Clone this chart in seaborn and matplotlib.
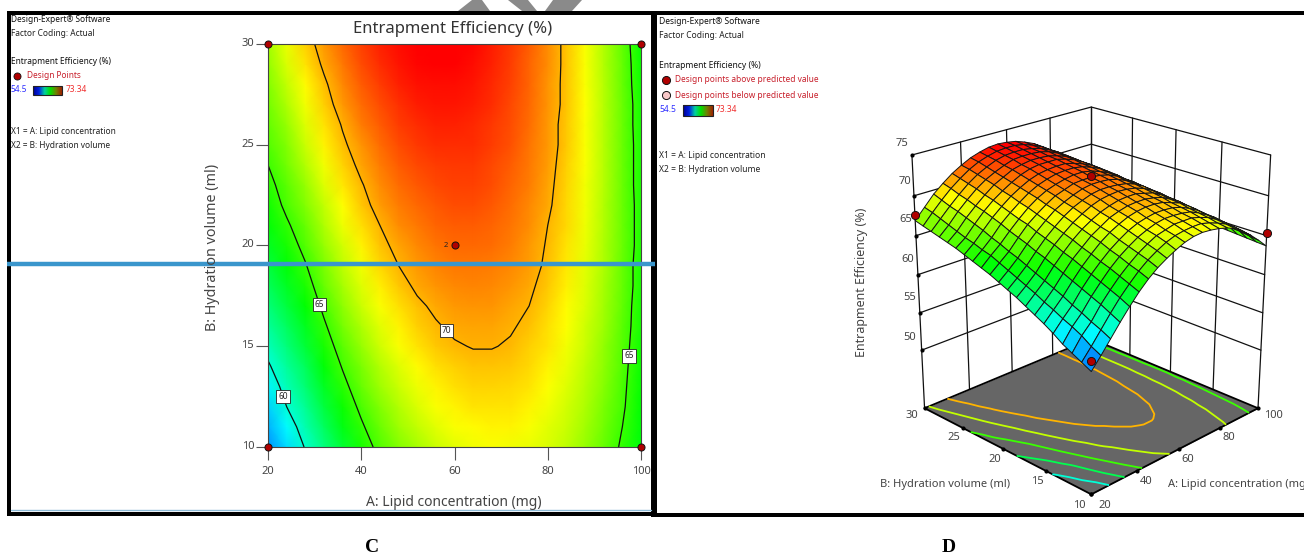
import numpy as np
import matplotlib
matplotlib.use("Agg")
import matplotlib.pyplot as plt
import seaborn as sns
import pandas as pd
from matplotlib.colors import LinearSegmentedColormap, Normalize
from matplotlib.patches import Rectangle, Polygon
from matplotlib.transforms import ScaledTranslation

# =============================================
# DATA
# =============================================
A_VALUES = [20, 24, 28, 32, 36, 40, 44, 48, 52, 56, 60, 64, 68, 72, 76, 80, 84, 88, 92, 96, 100]
B_VALUES = [10, 11, 12, 13, 14, 15, 16, 17, 18, 19, 20, 21, 22, 23, 24, 25, 26, 27, 28, 29, 30]

# one row per hydration volume (10 to 30), one column per lipid concentration (20 to 100)
EFFICIENCY = [
    [57.2, 58.6, 60.1, 61.6, 63.0, 64.3, 65.4, 66.3, 67.0, 67.6, 68.1, 68.4, 68.5, 68.4, 68.2, 67.9, 67.4, 66.7, 65.8, 64.8, 63.7],
    [57.8, 59.2, 60.7, 62.2, 63.6, 64.8, 65.9, 66.8, 67.5, 68.1, 68.5, 68.7, 68.8, 68.8, 68.5, 68.1, 67.6, 66.9, 66.0, 65.0, 63.8],
    [58.4, 60.0, 61.2, 62.8, 64.1, 65.3, 66.3, 67.2, 67.9, 68.5, 68.8, 69.1, 69.1, 69.1, 68.8, 68.4, 67.8, 67.1, 66.2, 65.2, 63.9],
    [59.0, 60.6, 61.8, 63.3, 64.6, 65.8, 66.8, 67.6, 68.3, 68.8, 69.2, 69.4, 69.4, 69.3, 69.1, 68.6, 68.0, 67.3, 66.4, 65.3, 64.0],
    [59.8, 61.1, 62.3, 63.8, 65.1, 66.2, 67.2, 68.0, 68.7, 69.2, 69.5, 69.7, 69.7, 69.6, 69.3, 68.8, 68.2, 67.4, 66.5, 65.4, 64.1],
    [60.5, 61.7, 62.9, 64.3, 65.6, 66.7, 67.7, 68.5, 69.1, 69.6, 69.9, 70.05, 70.05, 69.9, 69.5, 69.1, 68.4, 67.6, 66.6, 65.5, 64.2],
    [61.1, 62.2, 63.4, 64.8, 66.1, 67.1, 68.1, 68.8, 69.5, 69.9, 70.2, 70.3, 70.3, 70.1, 69.8, 69.2, 68.6, 67.7, 66.8, 65.6, 64.3],
    [61.7, 62.8, 63.9, 65.3, 66.5, 67.6, 68.5, 69.2, 69.8, 70.2, 70.5, 70.6, 70.6, 70.3, 70.0, 69.4, 68.7, 67.9, 66.9, 65.7, 64.3],
    [62.3, 63.3, 64.4, 65.8, 67.0, 68.0, 68.9, 69.6, 70.2, 70.6, 70.8, 70.9, 70.8, 70.6, 70.2, 69.6, 68.9, 68.0, 67.0, 65.8, 64.4],
    [62.8, 63.8, 64.9, 66.2, 67.4, 68.4, 69.3, 70.0, 70.5, 70.9, 71.1, 71.1, 71.0, 70.8, 70.4, 69.8, 69.0, 68.1, 67.1, 65.8, 64.4],
    [63.3, 64.3, 65.4, 66.7, 67.8, 68.8, 69.7, 70.3, 70.8, 71.2, 71.4, 71.4, 71.3, 71.0, 70.5, 69.9, 69.1, 68.2, 67.1, 65.9, 64.5],
    [63.8, 64.8, 65.8, 67.1, 68.3, 69.2, 70.0, 70.7, 71.1, 71.5, 71.6, 71.6, 71.5, 71.2, 70.7, 70.0, 69.3, 68.3, 67.2, 65.9, 64.5],
    [64.2, 65.3, 66.3, 67.5, 68.6, 69.6, 70.4, 71.0, 71.4, 71.7, 71.9, 71.9, 71.7, 71.3, 70.8, 70.2, 69.3, 68.4, 67.2, 65.9, 64.5],
    [64.6, 65.6, 66.7, 68.0, 69.0, 69.9, 70.7, 71.3, 71.7, 72.0, 72.1, 72.1, 71.9, 71.5, 71.0, 70.3, 69.4, 68.4, 67.3, 65.9, 64.4],
    [65.0, 66.0, 67.2, 68.4, 69.4, 70.3, 71.0, 71.6, 72.0, 72.2, 72.3, 72.3, 72.0, 71.6, 71.1, 70.4, 69.5, 68.5, 67.3, 65.9, 64.4],
    [65.4, 66.3, 67.6, 68.8, 69.8, 70.6, 71.3, 71.9, 72.3, 72.5, 72.5, 72.5, 72.2, 71.8, 71.2, 70.5, 69.6, 68.5, 67.3, 65.9, 64.4],
    [65.7, 66.7, 68.0, 69.1, 70.1, 71.0, 71.6, 72.2, 72.5, 72.7, 72.7, 72.6, 72.3, 71.9, 71.3, 70.5, 69.6, 68.5, 67.3, 65.9, 64.3],
    [66.0, 67.1, 68.4, 69.5, 70.5, 71.3, 71.9, 72.4, 72.8, 72.9, 72.9, 72.8, 72.5, 72.0, 71.4, 70.6, 69.7, 68.6, 67.3, 65.9, 64.3],
    [66.3, 67.5, 68.7, 69.8, 70.8, 71.6, 72.2, 72.7, 73.0, 73.1, 73.1, 72.9, 72.6, 72.1, 71.5, 70.6, 69.7, 68.5, 67.3, 65.8, 64.2],
    [66.6, 67.9, 69.1, 70.2, 71.1, 71.9, 72.5, 72.9, 73.2, 73.3, 73.3, 73.1, 72.7, 72.2, 71.5, 70.7, 69.7, 68.5, 67.2, 65.8, 64.1],
    [66.9, 68.2, 69.5, 70.5, 71.4, 72.1, 72.7, 73.1, 73.4, 73.5, 73.4, 73.2, 72.8, 72.3, 71.6, 70.7, 69.7, 68.5, 67.2, 65.7, 64.0],
]

POINTS_A = [20, 100, 20, 100, 60]
POINTS_B = [10, 10, 30, 30, 20]

POINTS_3D_A = [20, 100, 20, 60]
POINTS_3D_B = [10, 10, 30, 20]
POINTS_3D_Z = [58.5, 65.4, 67.6, 72.5]

A_TICKS = [20, 40, 60, 80, 100]
B_TICKS = [10, 15, 20, 25, 30]
Z_TICKS = [50, 55, 60, 65, 70, 75]
FLOOR_Z = 42

CONTOUR_2D = [60, 65, 70]
CONTOUR_3D = [60, 62.5, 65, 67.5, 70]
CONTOUR_LABELS = [(23, 12.5), (30, 17), (58.4, 15.8), (98.5, 14.5)]

SURFACE_COLORS = ["#0000ff", "#00ffff", "#00ff00", "#ffff00", "#ff0000"]
LEGEND_COLORS = ["#000090", "#0020e0", "#00d0a0", "#00e000", "#708000", "#a02000"]
VALUE_MIN, VALUE_MAX = 54.5, 73.34

W, H = 1304, 556
FONT = "Noto Sans"
TICK_GRAY = "#444444"
RED_TXT = "#c8202c"

sns.set_theme(style="white")
plt.rcParams["font.family"] = [FONT, "DejaVu Sans"]

cmap = LinearSegmentedColormap.from_list("design", SURFACE_COLORS)
legend_cmap = LinearSegmentedColormap.from_list("legend", LEGEND_COLORS)
norm = Normalize(VALUE_MIN, VALUE_MAX)

A_grid, B_grid = np.meshgrid(A_VALUES, B_VALUES)
Z_grid = np.array(EFFICIENCY)


def px_axes(fig, x0, y0, x1, y1, **kw):
    return fig.add_axes([x0 / W, 1 - y1 / H, (x1 - x0) / W, (y1 - y0) / H], **kw)


fig = plt.figure(figsize=(W / 100, H / 100), dpi=100, facecolor="white")

# ---------------------------------------------
# Panel C: contour plot
# ---------------------------------------------
ax = px_axes(fig, 268, 44, 641, 447)
ax.pcolormesh(A_grid, B_grid, Z_grid, cmap=cmap, norm=norm, shading="gouraud", rasterized=True)
cs = ax.contour(A_grid, B_grid, Z_grid, levels=CONTOUR_2D, colors="#111111", linewidths=0.9)
labels = ax.clabel(cs, fmt="%d", manual=CONTOUR_LABELS, inline=False, fontsize=6)
for t in labels:
    t.set_rotation(0)
    t.set_color("#222222")
    t.set_bbox(dict(facecolor="white", edgecolor="#222222", boxstyle="square,pad=0.25", linewidth=0.6))

points = pd.DataFrame({"A": POINTS_A, "B": POINTS_B})
sns.scatterplot(data=points, x="A", y="B", ax=ax, color="#b00000", edgecolor="#111111", linewidth=0.7,
                s=26, clip_on=False, zorder=6, legend=False)
ax.text(58.6, 20, "2", fontsize=5.5, ha="right", va="center", color="#222222")
ax.set_xlim(20, 100)
ax.set_ylim(10, 30)
ax.set_xticks(A_TICKS)
ax.set_yticks(B_TICKS)
ax.set_xlabel("")
ax.set_ylabel("")
ax.tick_params(axis="both", length=9, width=0.8, color="#555555", labelcolor=TICK_GRAY, labelsize=8,
               left=True, bottom=True)
ax.tick_params(axis="x", pad=5)
ax.tick_params(axis="y", pad=1)
for label in ax.get_yticklabels():
    label.set_transform(label.get_transform() + ScaledTranslation(0, 2 / 100, fig.dpi_scale_trans))
for s in ax.spines.values():
    s.set_linewidth(0.8)
    s.set_color("#444444")

# ---------------------------------------------
# Panel D: response surface
# ---------------------------------------------
ax3 = px_axes(fig, 871.5, 78, 1299.5, 506, projection="3d")
ax3.set_axis_off()
ax3.computed_zorder = False
ax3.set_proj_type("persp", focal_length=0.62)
ax3.view_init(elev=22.5, azim=-135)
ax3.set_box_aspect((1, 1, 1.12), zoom=1.0)
ax3.set_xlim(A_TICKS[0], A_TICKS[-1])
ax3.set_ylim(B_TICKS[0], B_TICKS[-1])
ax3.set_zlim(FLOOR_Z, Z_TICKS[-1])

a0, a1 = A_TICKS[0], A_TICKS[-1]
b0, b1 = B_TICKS[0], B_TICKS[-1]
wall = dict(color="#111111", linewidth=0.9, zorder=1)
for z in Z_TICKS:
    ax3.plot([a0, a1], [b1, b1], [z, z], **wall)
    ax3.plot([a1, a1], [b1, b0], [z, z], **wall)
for a in A_TICKS:
    ax3.plot([a, a], [b1, b1], [FLOOR_Z, Z_TICKS[-1]], **wall)
for b in B_TICKS:
    ax3.plot([a1, a1], [b, b], [FLOOR_Z, Z_TICKS[-1]], **wall)

floor_a, floor_b = np.meshgrid([a0, a1], [b0, b1])
ax3.plot_surface(floor_a, floor_b, np.full(floor_a.shape, FLOOR_Z), color="#666666", shade=False,
                 linewidth=0, zorder=2)
edge = dict(color="#000000", linewidth=1.3, zorder=3)
ax3.plot([a0, a1], [b0, b0], [FLOOR_Z, FLOOR_Z], **edge)
ax3.plot([a0, a0], [b0, b1], [FLOOR_Z, FLOOR_Z], **edge)
ax3.plot([a0, a1], [b1, b1], [FLOOR_Z, FLOOR_Z], **edge)
ax3.plot([a1, a1], [b1, b0], [FLOOR_Z, FLOOR_Z], **edge)

ax3.contour(A_grid, B_grid, Z_grid, levels=CONTOUR_3D, zdir="z", offset=FLOOR_Z,
            colors=[cmap(norm(v)) for v in CONTOUR_3D], linewidths=1.3, zorder=3)

ax3.plot_surface(A_grid, B_grid, Z_grid, facecolors=cmap(norm(Z_grid)), rstride=1, cstride=1, shade=False,
                 edgecolor="#151515", linewidth=0.7, antialiased=True, zorder=4)

ax3.scatter(POINTS_3D_A, POINTS_3D_B, POINTS_3D_Z, color="#b00000", edgecolor="#111111", linewidth=0.7,
            s=34, depthshade=False, zorder=6)

# tick dots along the box edges
ax3.scatter([a0] * len(Z_TICKS), [b1] * len(Z_TICKS), Z_TICKS, color="black", s=4, depthshade=False, zorder=3)
ax3.scatter(A_TICKS, [b0] * len(A_TICKS), [FLOOR_Z] * len(A_TICKS), color="black", s=4, depthshade=False, zorder=3)
ax3.scatter([a0] * len(B_TICKS), B_TICKS, [FLOOR_Z] * len(B_TICKS), color="black", s=4, depthshade=False, zorder=3)

# ---------------------------------------------
# Overlay: frames, captions, all fixed text
# ---------------------------------------------
ov = fig.add_axes([0, 0, 1, 1], zorder=10)
ov.set_xlim(0, W)
ov.set_ylim(H, 0)
ov.axis("off")


def txt(x, y, s, size=6, color="#222222", weight="normal", ha="left", rotation=0, family=None):
    ov.text(x, y, s, fontsize=size, color=color, fontweight=weight, ha=ha, va="center",
            rotation=rotation, family=family or FONT, clip_on=True)


for xy, w, h in [((7, 11), 1297, 4), ((7, 11), 4, 505), ((651, 11), 6, 506), ((7, 512), 645, 4), ((652, 513), 652, 4)]:
    ov.add_patch(Rectangle(xy, w, h, facecolor="black", edgecolor="none"))
ov.plot([11, 651], [509.5, 509.5], color="#8fbcd8", linewidth=1)
ov.plot([7, 655], [264, 264], color="#3a96cc", linewidth=3.2, solid_capstyle="butt")

# watermark cut off by the top of the page
for shape in [[(458, 11), (472, 0), (482, 0), (490, 11)],
              [(508, 0), (528, 0), (537, 11), (522, 11)],
              [(553, 0), (582, 0), (572, 11), (545, 11)]]:
    ov.add_patch(Polygon(shape, closed=True, facecolor="#8a8a8a", edgecolor="none"))

# panel C text
txt(453, 29, "Entrapment Efficiency (%)", size=12, color="#333333", ha="center")
txt(453.5, 503, "A: Lipid concentration (mg)", size=10, color="#444444", ha="center")
txt(212, 247, "B: Hydration volume (ml)", size=10.3, color="#444444", ha="center", rotation=90)
txt(11, 20, "Design-Expert\u00ae Software", size=6.0, weight="bold", color="#111111")
txt(11, 34, "Factor Coding: Actual", size=6.0)
txt(11, 62, "Entrapment Efficiency (%)", size=6.0, weight="bold", color="#111111")
txt(27, 76, "Design Points", size=6.0, color=RED_TXT)
txt(11, 90, "54.5", size=6.0, color="#3030ff")
txt(66, 90, "73.34", size=6.0, color="#f03030")
txt(11, 131, "X1 = A: Lipid concentration", size=6.0)
txt(11, 146, "X2 = B: Hydration volume", size=6.0)
ov.scatter([17], [76], s=26, color="#b00000", edgecolor="#111111", linewidth=0.6)

# panel D text
txt(659, 21, "Design-Expert\u00ae Software", size=6.1, weight="bold", color="#111111")
txt(659, 36, "Factor Coding: Actual", size=6.1)
txt(659, 66, "Entrapment Efficiency (%)", size=6.1, weight="bold", color="#111111")
txt(675, 80, "Design points above predicted value", size=6.0, color=RED_TXT)
txt(675, 95, "Design points below predicted value", size=6.0, color=RED_TXT)
txt(659, 110, "54.5", size=6.1, color="#3030ff")
txt(716, 110, "73.34", size=6.1, color="#f03030")
txt(659, 155, "X1 = A: Lipid concentration", size=6.1)
txt(659, 170, "X2 = B: Hydration volume", size=6.1)
ov.scatter([666], [80], s=34, color="#b00000", edgecolor="#111111", linewidth=0.7)
ov.scatter([666], [95], s=34, color="#f8c8c8", edgecolor="#111111", linewidth=0.7)

gradient = np.linspace(0, 1, 128).reshape(1, -1)
for x0, y0, x1, y1 in [(33, 86, 62, 95), (683, 105, 713, 116)]:
    ov.imshow(gradient, cmap=legend_cmap, extent=(x0, x1, y1, y0), aspect="auto", zorder=2)
    ov.add_patch(Rectangle((x0, y0), x1 - x0, y1 - y0, facecolor="none", edgecolor="#222222", linewidth=0.8, zorder=3))
ov.set_xlim(0, W)
ov.set_ylim(H, 0)

# panel D axis text
for z, x, y in zip(Z_TICKS, [910, 910, 908, 906, 905, 902], [337, 298, 259, 220, 182, 143]):
    txt(x, y, str(z), size=8, color=TICK_GRAY, ha="center")
for a, x, y in zip(A_TICKS, [1105, 1146, 1188, 1229, 1273], [505, 482, 460, 438, 416]):
    txt(x, y, str(a), size=8, color=TICK_GRAY, ha="center")
for b, x, y in zip(B_TICKS, [1079, 1037, 995, 954, 912], [505, 482, 460, 438, 416]):
    txt(x, y, str(b), size=8, color=TICK_GRAY, ha="center")
txt(862, 282, "Entrapment Efficiency (%)", size=9, color="#444444", ha="center", rotation=90)
txt(945, 485, "B: Hydration volume (ml)", size=8, color="#444444", ha="center")
txt(1168, 485, "A: Lipid concentration (mg)", size=8, color="#444444")

# captions
txt(372, 548, "C", size=14, weight="bold", color="black", ha="center", family="Liberation Serif")
txt(949, 548, "D", size=14, weight="bold", color="black", ha="center", family="Liberation Serif")

fig.savefig("out.png", dpi=100)
